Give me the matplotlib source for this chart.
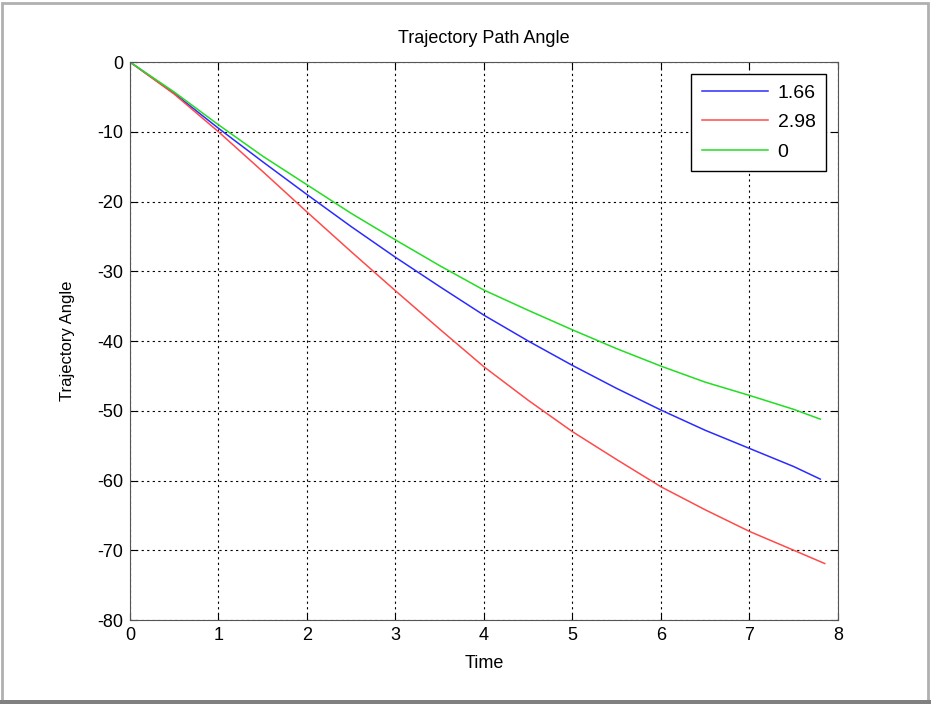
import matplotlib.pyplot as plt
from matplotlib.patches import Rectangle

plt.rcParams['font.family'] = ['Liberation Sans', 'DejaVu Sans']
plt.rcParams['axes.unicode_minus'] = False

# values
t_green = [0, 0.5, 1, 1.5, 2, 2.5, 3, 3.5, 4, 4.5, 5, 5.5, 6, 6.5, 7, 7.5, 7.8]
y_green = [0, -4.3, -9.0, -13.5, -17.6, -21.7, -25.5, -29.2, -32.7, -35.6,
           -38.4, -41.1, -43.6, -45.9, -47.8, -49.8, -51.2]
t_blue = [0, 0.5, 1, 1.5, 2, 2.5, 3, 3.5, 4, 4.5, 5, 5.5, 6, 6.5, 7, 7.5, 7.8]
y_blue = [0, -4.5, -9.5, -14.3, -19.0, -23.6, -28.0, -32.2, -36.3, -40.0,
          -43.5, -46.8, -49.9, -52.8, -55.4, -58.0, -59.8]
t_red = [0, 0.5, 1, 1.5, 2, 2.5, 3, 3.5, 4, 4.5, 5, 5.5, 6, 6.5, 7, 7.5, 7.85]
y_red = [0, -4.6, -10.0, -15.7, -21.5, -27.2, -32.8, -38.3, -43.7, -48.5,
         -53.0, -57.0, -60.9, -64.2, -67.3, -70.0, -71.9]
labels = ['1.66', '2.98', '0']

fig = plt.figure(figsize=(9.31, 7.04), dpi=100)
fig.patch.set_facecolor('white')

# gray frame around the picture
fig.add_artist(Rectangle((0.002, 0.004), 0.995, 0.992, transform=fig.transFigure,
                         fill=False, edgecolor='#b0b0b0', linewidth=2))
fig.add_artist(Rectangle((0.0, 0.0), 1.0, 0.006, transform=fig.transFigure,
                         facecolor='#808080', edgecolor='none'))

ax = fig.add_axes([0.1396, 0.1193, 0.7605, 0.7926])
ax.plot(t_blue, y_blue, color='#2b2bff', lw=1.1, label=labels[0])
ax.plot(t_red, y_red, color='#ff4a4a', lw=1.1, label=labels[1])
ax.plot(t_green, y_green, color='#22dd22', lw=1.1, label=labels[2])

ax.set_xlim(0, 8)
ax.set_ylim(-80, 0)
ax.set_xticks(range(0, 9))
ax.set_yticks(range(-80, 1, 10))
ax.grid(True, color='black', linestyle=(0, (2, 3)), linewidth=0.8)
ax.tick_params(direction='in', top=True, right=True, labelsize=13, length=5, pad=5)
for s in ax.spines.values():
    s.set_color('#555555')

ax.set_title('Trajectory Path Angle', fontsize=13, pad=14)
ax.set_xlabel('Time', fontsize=13, labelpad=8)
ax.set_ylabel('Trajectory Angle', fontsize=12, labelpad=16)

leg = ax.legend(loc='upper right', fontsize=14, fancybox=False, framealpha=1,
                edgecolor='black', handlelength=3.4, borderaxespad=0.6,
                labelspacing=0.6, borderpad=0.55, handletextpad=0.5)
leg.get_frame().set_linewidth(1.0)

fig.savefig('out.png', dpi=100)
